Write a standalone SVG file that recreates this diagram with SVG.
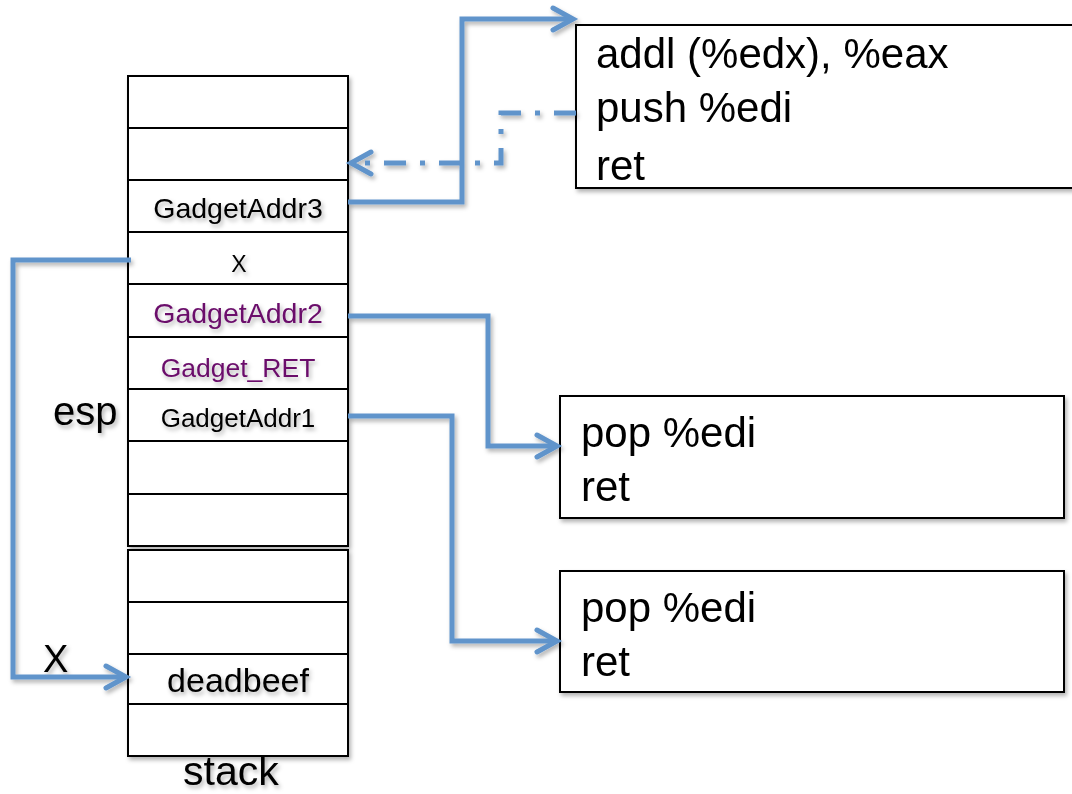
<svg xmlns="http://www.w3.org/2000/svg" width="1072" height="794" viewBox="0 0 1072 794">
  <style>
    text { font-family: "Liberation Sans", Arial, sans-serif; fill: #000; }
    .cell { fill: #fff; stroke: #000; stroke-width: 2; }
    .box { fill: #fff; stroke: #000; stroke-width: 2; }
    .lbl { text-anchor: middle; }
    .purple { fill: #6a0a6a; }
    .code { font-size: 42px; }
    .wire { fill: none; stroke: #6094cb; stroke-width: 5; stroke-linejoin: miter; }
    .dashdot { stroke-dasharray: 22 14 5 14; }
  </style>
  <defs>
    <filter id="soft" x="-10%" y="-20%" width="130%" height="160%">
      <feDropShadow dx="2" dy="3" stdDeviation="2" flood-color="#000" flood-opacity="0.3"/>
    </filter>
    <marker id="chev" markerUnits="userSpaceOnUse" markerWidth="30" markerHeight="30" viewBox="-24 -15 30 30" refX="0" refY="0" orient="auto">
      <path d="M-20,-11 L0,0 L-20,11" fill="none" stroke="#6094cb" stroke-width="5" stroke-linecap="round" stroke-linejoin="miter"/>
    </marker>
  </defs>

  <!-- stack of memory cells -->
  <g id="stack">
    <g filter="url(#soft)">
      <rect class="cell" x="128" y="76" width="220" height="52"/>
      <rect class="cell" x="128" y="128" width="220" height="52"/>
      <rect class="cell" x="128" y="180" width="220" height="52"/>
      <rect class="cell" x="128" y="232" width="220" height="52"/>
      <rect class="cell" x="128" y="284" width="220" height="53"/>
      <rect class="cell" x="128" y="337" width="220" height="52"/>
      <rect class="cell" x="128" y="389" width="220" height="52"/>
      <rect class="cell" x="128" y="441" width="220" height="53"/>
      <rect class="cell" x="128" y="494" width="220" height="52"/>
      <rect class="cell" x="128" y="550" width="220" height="52"/>
      <rect class="cell" x="128" y="602" width="220" height="52"/>
      <rect class="cell" x="128" y="654" width="220" height="50"/>
      <rect class="cell" x="128" y="704" width="220" height="52"/>
    </g>
    <g filter="url(#soft)">
      <text class="lbl" x="238" y="218" font-size="28.5">GadgetAddr3</text>
      <text class="lbl" x="239" y="272" font-size="23">X</text>
      <text class="lbl purple" x="238" y="323" font-size="28.5">GadgetAddr2</text>
      <text class="lbl purple" x="238" y="377" font-size="26.5">Gadget_RET</text>
      <text class="lbl" x="238" y="427" font-size="26">GadgetAddr1</text>
      <text class="lbl" x="238" y="692" font-size="34">deadbeef</text>
      <text x="53" y="425" font-size="40">esp</text>
      <text x="43" y="672" font-size="38">X</text>
      <text x="183" y="785" font-size="41">stack</text>
    </g>
  </g>

  <!-- gadget: addl / push / ret -->
  <g id="gadget3" filter="url(#soft)">
    <rect class="box" x="576" y="25" width="500" height="163"/>
    <text class="code" x="596" y="68">addl (%edx), %eax</text>
    <text class="code" x="596" y="122">push %edi</text>
    <text class="code" x="596" y="180">ret</text>
  </g>

  <!-- gadget: pop / ret (reached from GadgetAddr2) -->
  <g id="gadget2" filter="url(#soft)">
    <rect class="box" x="560" y="396" width="504" height="122"/>
    <text class="code" x="581" y="447">pop %edi</text>
    <text class="code" x="581" y="501">ret</text>
  </g>

  <!-- gadget: pop / ret (reached from GadgetAddr1) -->
  <g id="gadget1" filter="url(#soft)">
    <rect class="box" x="560" y="571" width="504" height="121"/>
    <text class="code" x="581" y="622">pop %edi</text>
    <text class="code" x="581" y="676">ret</text>
  </g>

  <!-- control-flow arrows -->
  <g id="connectors" filter="url(#soft)">
    <path class="wire" d="M348,202 H462 V19 H573" marker-end="url(#chev)"/>
    <path class="wire dashdot" d="M576,113 H501 V163 H351" marker-end="url(#chev)"/>
    <path class="wire" d="M131,260 H13 V677 H126" marker-end="url(#chev)"/>
    <path class="wire" d="M348,316 H488 V446 H557" marker-end="url(#chev)"/>
    <path class="wire" d="M348,416 H452 V641 H557" marker-end="url(#chev)"/>
  </g>
</svg>
